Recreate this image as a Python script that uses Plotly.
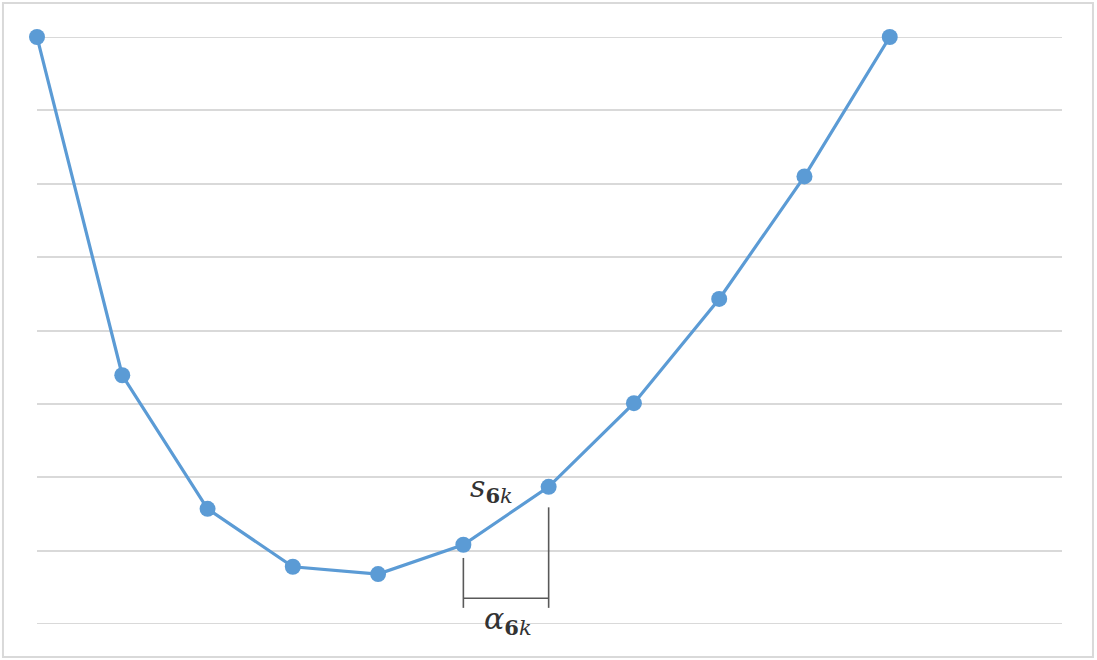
import plotly.graph_objects as go

# Data (y in gridline units)
x_idx = [0, 1, 2, 3, 4, 5, 6, 7, 8, 9, 10]
y_vals = [8.0, 3.39, 1.57, 0.78, 0.68, 1.08, 1.87, 3.01, 4.43, 6.10, 8.0]
seg_idx = [5, 6]  # segment annotated with s_6k / alpha_6k

BLUE = "#5B9BD5"
GRID = "#d9d9d9"
DARK = "#595959"

fig = go.Figure()
fig.add_trace(go.Scatter(
    x=x_idx, y=y_vals, mode="lines+markers",
    line=dict(color=BLUE, width=3.2),
    marker=dict(color=BLUE, size=16),
    cliponaxis=False, showlegend=False, hoverinfo="skip"))

xa, xb = x_idx[seg_idx[0]], x_idx[seg_idx[1]]
shapes = [
    # outer border
    dict(type="rect", xref="paper", yref="paper", x0=-0.0332, x1=1.0302, y0=-0.0562, y1=1.058,
         line=dict(color=GRID, width=2), layer="below"),
    # grid lines at the axis ends
    dict(type="line", xref="paper", yref="y", x0=0, x1=1, y0=0, y1=0, line=dict(color=GRID, width=2), layer="below"),
    dict(type="line", xref="paper", yref="y", x0=0, x1=1, y0=8, y1=8, line=dict(color=GRID, width=2), layer="below"),
    # segment brackets
    dict(type="line", xref="x", yref="y", x0=xa, x1=xa, y0=0.22, y1=0.90, line=dict(color=DARK, width=1.6)),
    dict(type="line", xref="x", yref="y", x0=xb, x1=xb, y0=0.22, y1=1.59, line=dict(color=DARK, width=1.6)),
    dict(type="line", xref="x", yref="y", x0=xa, x1=xb, y0=0.35, y1=0.35, line=dict(color=DARK, width=1.6)),
]

SUB = '<sub><b>6</b><i>k</i></sub>'
annotations = [
    dict(x=xa + 0.05, y=1.84, xref="x", yref="y", showarrow=False, xanchor="left",
         text="<i>s</i>" + SUB,
         font=dict(family="DejaVu Serif", size=30, color="#333333")),
    dict(x=xa + 0.22, y=0.05, xref="x", yref="y", showarrow=False, xanchor="left",
         text="<i>α</i>" + SUB,
         font=dict(family="DejaVu Serif", size=30, color="#333333")),
]

fig.update_layout(
    width=1097, height=660,
    margin=dict(l=37, r=35, t=37, b=36),
    paper_bgcolor="white", plot_bgcolor="white",
    shapes=shapes, annotations=annotations,
    xaxis=dict(range=[0, 12.02], showgrid=False, zeroline=False, showticklabels=False, showline=False, ticks=""),
    yaxis=dict(range=[0, 8], dtick=1, showgrid=True, gridcolor=GRID, gridwidth=2,
               zeroline=False, showticklabels=False, showline=False, ticks=""),
)

fig.write_html("out.html", config={"displayModeBar": False},
               post_script="document.body.style.margin='0px';")
